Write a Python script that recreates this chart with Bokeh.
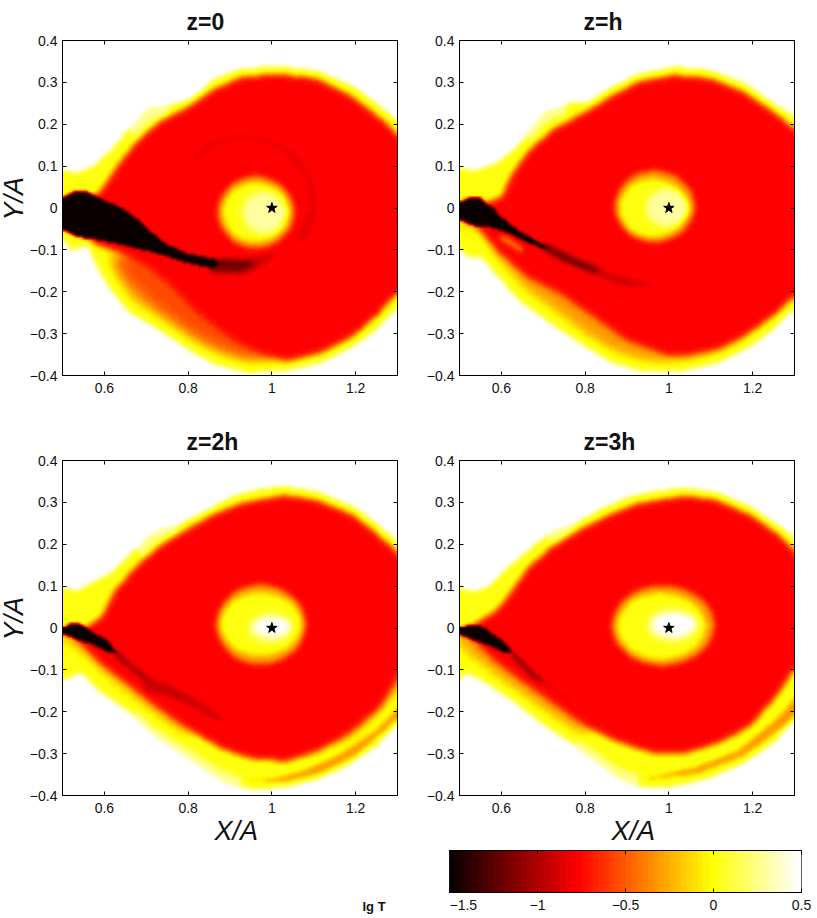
import numpy as np
from bokeh.embed import file_html
from bokeh.resources import INLINE
from bokeh.plotting import figure
from bokeh.layouts import column, row
from bokeh.core.properties import value
from bokeh.models import (FixedTicker, LinearAxis, LinearColorMapper, Range1d, Title)

TITLES = ["z=0", "z=h", "z=2h", "z=3h"]
X_TICKS = [0.6, 0.8, 1.0, 1.2]
X_LABELS = {0.6: "0.6", 0.8: "0.8", 1.0: "1", 1.2: "1.2"}
Y_TICKS = [-0.4, -0.3, -0.2, -0.1, 0, 0.1, 0.2, 0.3, 0.4]
Y_LABELS = {-0.4: "\u22120.4", -0.3: "\u22120.3", -0.2: "\u22120.2", -0.1: "\u22120.1", 0: "0",
            0.1: "0.1", 0.2: "0.2", 0.3: "0.3", 0.4: "0.4"}
CB_TICKS = [-1.5, -1, -0.5, 0, 0.5]
CB_LABELS = {-1.5: "\u22121.5", -1: "\u22121", -0.5: "\u22120.5", 0: "0", 0.5: "0.5"}
STAR_X = [1.0]
STAR_Y = [0.0]

# lg T levels of the regions
PALE, YELLOW, ORANGE, LOWER, RED, RING, DARK, DEEP, BLACK = 0.25, 0.02, -0.33, -0.55, -0.76, -0.84, -0.92, -1.2, -1.5

# ---- z=0 contours (x, y) ----
P1_OUTER = [(.47,.09),(.505,.09),(.537,.085),(.576,.103),(.616,.139),(.656,.187),(.704,.239),(.759,.247),(.807,.262),(.863,.31),(.926,.332),(1.014,.34),(1.109,.328),(1.197,.29),(1.26,.243),(1.3,.21),(1.36,.17),(1.36,-.27),(1.3,-.238),(1.252,-.29),(1.197,-.33),(1.117,-.37),(1.03,-.39),(.942,-.394),(.863,-.374),(.799,-.338),(.727,-.29),(.656,-.247),(.608,-.187),(.576,-.131),(.56,-.09),(.52,-.103),(.505,-.076),(.47,-.076)]
P1_PALE = [(.66,.19),(.704,.24),(.759,.247),(.75,.225),(.7,.2),(.67,.165)]
P1_ORANGE = [(.6,-.105),(.62,-.165),(.66,-.225),(.73,-.27),(.8,-.32),(.865,-.355),(.945,-.378),(1.03,-.378),(1.12,-.355),(1.2,-.31),(1.1,-.2),(.7,-.1)]
P1_LOWER = [(.61,-.105),(.66,-.18),(.73,-.245),(.8,-.3),(.87,-.34),(.94,-.36),(1.0,-.36),(1.0,-.25),(.7,-.1)]
P1_RED = [(.592,.044),(.628,.1),(.672,.155),(.727,.207),(.799,.243),(.863,.286),(.926,.313),(1.014,.32),(1.109,.31),(1.189,.27),(1.252,.223),(1.3,.18),(1.36,.1),(1.36,-.17),(1.3,-.207),(1.252,-.258),(1.197,-.306),(1.117,-.346),(1.038,-.366),(.974,-.35),(.89,-.305),(.82,-.25),(.76,-.19),(.7,-.14),(.64,-.11),(.58,-.09),(.53,-.05),(.53,0),(.56,.02)]
P1_RING = [(.8,.115),(.85,.16),(.915,.178),(.99,.17),(1.055,.138),(1.1,.075),(1.112,0),(1.095,-.06),(1.07,-.1),(1.06,-.06),(1.09,0),(1.078,.075),(1.035,.125),(.985,.155),(.915,.165),(.86,.145),(.82,.108)]
P1_STREAM = [(.47,.03),(.502,.028),(.525,.042),(.56,.042),(.592,.024),(.632,.008),(.672,-.02),(.712,-.056),(.751,-.087),(.799,-.108),(.86,-.12),(.875,-.135),(.86,-.148),(.8,-.135),(.767,-.124),(.712,-.108),(.656,-.095),(.592,-.08),(.535,-.072),(.505,-.056),(.47,-.056)]
P1_TAIL2 = [(.86,-.12),(.94,-.12),(1.0,-.105),(1.02,-.11),(.98,-.14),(.93,-.165),(.85,-.16)]
P1_TAIL = [(.85,-.118),(.92,-.122),(.95,-.122),(.96,-.14),(.92,-.155),(.85,-.152)]
P1_HOT = [(ORANGE,.962,-.01,.096,.09),(YELLOW,.962,-.01,.08,.072),(.3,.982,-.012,.05,.05)]

# ---- z=h contours ----
P2_OUTER = [(.47,.095),(.505,.095),(.537,.091),(.584,.107),(.624,.135),(.664,.179),(.704,.227),(.759,.25),(.807,.254),(.863,.29),(.926,.32),(1.014,.338),(1.101,.33),(1.181,.298),(1.252,.25),(1.3,.219),(1.36,.17),(1.36,-.28),(1.3,-.243),(1.252,-.29),(1.197,-.33),(1.117,-.37),(1.03,-.39),(.942,-.392),(.863,-.37),(.791,-.326),(.719,-.278),(.648,-.227),(.592,-.167),(.552,-.119),(.521,-.119),(.503,-.099),(.47,-.099)]
P2_PALE = [(.66,.18),(.704,.23),(.76,.25),(.75,.225),(.7,.2),(.67,.16)]
P2_ORANGE = [(.47,-.05),(.55,-.06),(.58,-.12),(.65,-.2),(.72,-.25),(.79,-.305),(.865,-.352),(.945,-.375),(1.03,-.378),(1.12,-.355),(1.2,-.315),(1.1,-.2),(.7,-.1),(.6,-.03),(.47,-.03)]
P2_RED = [(.6,.028),(.624,.083),(.664,.139),(.719,.187),(.807,.235),(.863,.27),(.926,.302),(1.014,.318),(1.101,.31),(1.181,.278),(1.252,.231),(1.3,.191),(1.36,.13),(1.36,-.25),(1.3,-.211),(1.252,-.258),(1.197,-.298),(1.117,-.338),(1.038,-.354),(.99,-.35),(.894,-.314),(.815,-.258),(.735,-.203),(.656,-.163),(.592,-.107),(.545,-.052),(.537,.004)]
P2_STREAK = [(.6,-.06),(.655,-.095),(.65,-.112),(.59,-.075)]
P2_FAINT1 = [(.62,-.002),(.68,-.03),(.68,-.036),(.62,-.008)]
P2_FAINT2 = [(.845,-.197),(.9,-.217),(.9,-.226),(.85,-.205)]
P2_TAIL2 = [(.79,-.12),(.863,-.155),(.97,-.183),(.966,-.193),(.894,-.19),(.855,-.176),(.78,-.145)]
P2_TAIL1 = [(.704,-.08),(.767,-.111),(.83,-.145),(.83,-.165),(.751,-.134),(.696,-.105)]
P2_STREAM = [(.47,.02),(.505,.02),(.525,.03),(.549,.028),(.576,.006),(.6,-.02),(.64,-.052),(.688,-.08),(.719,-.095),(.7,-.101),(.656,-.083),(.608,-.06),(.576,-.05),(.529,-.045),(.505,-.032),(.47,-.032)]
P2_HOT = [(ORANGE,.966,.004,.1,.09),(YELLOW,.962,0,.082,.07),(.3,.998,0,.05,.046)]

# ---- z=2h contours ----
P3_OUTER = [(.47,.095),(.505,.095),(.537,.091),(.584,.115),(.624,.139),(.672,.187),(.727,.235),(.783,.25),(.831,.274),(.894,.31),(.958,.33),(1.03,.34),(1.109,.326),(1.197,.29),(1.26,.243),(1.3,.207),(1.36,.16),(1.36,-.28),(1.3,-.227),(1.252,-.282),(1.18,-.33),(1.109,-.362),(1.03,-.382),(.95,-.386),(.879,-.362),(.807,-.314),(.735,-.266),(.672,-.211),(.592,-.155),(.545,-.107),(.509,-.123),(.47,-.12)]
P3_PALE = [(.67,-.215),(.735,-.27),(.807,-.318),(.879,-.366),(.93,-.385),(.93,-.36),(.88,-.34),(.8,-.29),(.72,-.24),(.68,-.2)]
P3_PALE2 = [(.68,.19),(.727,.235),(.783,.25),(.77,.23),(.72,.205),(.69,.17)]
P3_WEDGE = [(.47,-.02),(.54,-.06),(.59,-.11),(.65,-.16),(.72,-.215),(.8,-.27),(.85,-.2),(.7,-.05),(.5,0),(.47,0)]
P3_STREAK = [(.92,-.365),(1.03,-.372),(1.12,-.35),(1.2,-.31),(1.27,-.25),(1.33,-.2),(1.33,-.16),(1.25,-.24),(1.16,-.3),(1.08,-.335),(1.0,-.358),(.93,-.36)]
P3_INNER = [(1.0,-.32),(1.1,-.3),(1.19,-.265),(1.25,-.21),(1.33,-.12),(1.33,0),(1.2,-.1),(1.0,-.2)]
P3_RED = [(.592,.028),(.624,.091),(.672,.147),(.727,.195),(.799,.239),(.863,.274),(.926,.298),(1.03,.318),(1.109,.306),(1.197,.27),(1.252,.227),(1.3,.183),(1.36,.12),(1.36,-.05),(1.3,-.12),(1.26,-.19),(1.19,-.25),(1.11,-.295),(1.038,-.318),(.958,-.314),(.879,-.29),(.799,-.243),(.719,-.187),(.648,-.131),(.584,-.083),(.537,-.036),(.52,-.02)]
P3_TAIL2 = [(.688,-.107),(.767,-.139),(.831,-.175),(.894,-.223),(.863,-.223),(.807,-.191),(.735,-.163),(.696,-.155),(.685,-.127)]
P3_TAIL1 = [(.624,-.048),(.672,-.091),(.704,-.115),(.688,-.123),(.648,-.091),(.62,-.068)]
P3_STREAM = [(.47,.004),(.503,.004),(.521,.016),(.545,.012),(.576,-.012),(.608,-.028),(.632,-.06),(.616,-.064),(.576,-.044),(.537,-.032),(.505,-.02),(.47,-.02)]
P3_HOT = [(ORANGE,.974,.008,.111,.1),(YELLOW,.974,.009,.098,.076),(.3,.998,0,.05,.034),(.5,1.004,.004,.042,.022)]

# ---- z=3h contours ----
P4_OUTER = [(.47,.095),(.505,.095),(.537,.087),(.572,.103),(.616,.147),(.664,.187),(.719,.231),(.783,.254),(.831,.282),(.894,.31),(.958,.326),(1.038,.336),(1.117,.324),(1.197,.29),(1.26,.247),(1.3,.219),(1.36,.16),(1.36,-.3),(1.3,-.219),(1.252,-.274),(1.181,-.322),(1.101,-.358),(1.022,-.378),(.942,-.382),(.879,-.358),(.831,-.322),(.775,-.282),(.704,-.235),(.632,-.179),(.56,-.131),(.517,-.107),(.505,-.123),(.47,-.12)]
P4_PALE = [(.775,-.285),(.831,-.325),(.879,-.36),(.93,-.38),(.93,-.352),(.88,-.335),(.83,-.3),(.78,-.265)]
P4_PALE2 = [(.7,.215),(.72,.232),(.783,.255),(.77,.235),(.73,.21)]
P4_WEDGE = [(.47,-.02),(.52,-.07),(.58,-.12),(.65,-.17),(.73,-.225),(.8,-.27),(.85,-.2),(.7,-.05),(.5,0),(.47,0)]
P4_STREAK = [(.94,-.358),(1.06,-.33),(1.165,-.29),(1.26,-.21),(1.33,-.13),(1.33,-.19),(1.27,-.245),(1.18,-.31),(1.07,-.352),(.95,-.366)]
P4_RED = [(.588,.044),(.624,.091),(.664,.147),(.719,.195),(.791,.239),(.863,.274),(.926,.298),(1.038,.316),(1.117,.306),(1.197,.27),(1.26,.227),(1.3,.187),(1.36,.1),(1.36,-.1),(1.3,-.1),(1.26,-.163),(1.197,-.235),(1.125,-.274),(1.046,-.298),(.958,-.298),(.879,-.274),(.799,-.235),(.719,-.179),(.64,-.123),(.568,-.068),(.529,-.028),(.51,-.004)]
P4_TAIL2 = [(.692,-.115),(.743,-.155),(.799,-.191),(.751,-.171),(.704,-.143)]
P4_TAIL1 = [(.624,-.052),(.664,-.091),(.704,-.127),(.688,-.135),(.648,-.099),(.62,-.072)]
P4_STREAM = [(.47,.004),(.505,.004),(.525,.01),(.552,.008),(.584,-.016),(.608,-.032),(.632,-.064),(.608,-.064),(.568,-.044),(.521,-.028),(.503,-.02),(.47,-.02)]
P4_HOT = [(ORANGE,.986,.006,.127,.1),(YELLOW,.982,.004,.107,.08),(.3,1.01,.006,.06,.038),(.5,1.012,.008,.05,.028)]

PANELS = [
    dict(rim=[(YELLOW,P1_OUTER),(PALE,P1_PALE)], wedge=[(ORANGE,P1_ORANGE),(LOWER,P1_LOWER)], red=P1_RED,
         marks=[(RING,P1_RING)], hot=P1_HOT, tails=[(DARK,P1_TAIL2),(DEEP,P1_TAIL)], core=P1_STREAM),
    dict(rim=[(YELLOW,P2_OUTER),(PALE,P2_PALE)], wedge=[(ORANGE,P2_ORANGE)], red=P2_RED,
         marks=[(ORANGE,P2_STREAK),(DARK,P2_FAINT1),(DARK,P2_FAINT2)], hot=P2_HOT,
         tails=[(DARK,P2_TAIL2),(DEEP,P2_TAIL1)], core=P2_STREAM),
    dict(rim=[(YELLOW,P3_OUTER),(PALE,P3_PALE),(PALE,P3_PALE2)], wedge=[(ORANGE,P3_WEDGE),(LOWER,P3_INNER)], red=P3_RED,
         marks=[(ORANGE,P3_STREAK)], hot=P3_HOT, tails=[(DARK,P3_TAIL2),(DEEP,P3_TAIL1)], core=P3_STREAM),
    dict(rim=[(YELLOW,P4_OUTER),(PALE,P4_PALE),(PALE,P4_PALE2)], wedge=[(ORANGE,P4_WEDGE)], red=P4_RED,
         marks=[(ORANGE,P4_STREAK)], hot=P4_HOT, tails=[(DARK,P4_TAIL2),(DEEP,P4_TAIL1)], core=P4_STREAM),
]

# MATLAB-style "hot" colormap with 64 levels
def hot_palette(n=64):
    k = int(3 * n / 8)
    out = []
    for i in range(n):
        r = min((i + 1) / k, 1)
        g = min(max((i + 1 - k) / k, 0), 1)
        b = max((i + 1 - 2 * k) / (n - 2 * k), 0)
        out.append("#%02x%02x%02x" % (round(r * 255), round(g * 255), round(b * 255)))
    return out

HOT = hot_palette()
MAPPER = LinearColorMapper(palette=HOT, low=-1.5, high=0.5)

PAD, NPIX = 14, 168
STEP = 0.8 / NPIX
GX, GY = np.meshgrid(0.5 + (np.arange(-PAD, NPIX + PAD) + 0.5) * STEP,
                     -0.4 + (np.arange(-PAD, NPIX + PAD) + 0.5) * STEP)

def inside(poly):
    pts = np.array(poly)
    xa, ya = pts[:, 0], pts[:, 1]
    xb, yb = np.roll(xa, -1), np.roll(ya, -1)
    m = np.zeros(GX.shape, bool)
    for x1, y1, x2, y2 in zip(xa, ya, xb, yb):
        if y1 == y2:
            continue
        c = (y1 > GY) != (y2 > GY)
        m ^= c & (GX < (x2 - x1) * (GY - y1) / (y2 - y1) + x1)
    return m

def oval(cx, cy, rx, ry):
    return ((GX - cx) / rx) ** 2 + ((GY - cy) / ry) ** 2 < 1

def grow(m):
    return m | np.roll(m, 1, 0) | np.roll(m, -1, 0) | np.roll(m, 1, 1) | np.roll(m, -1, 1)

def soften(f, sigma):
    r = int(3 * sigma) + 1
    k = np.exp(-0.5 * (np.arange(-r, r + 1) / sigma) ** 2)
    k /= k.sum()
    pad = np.pad(f, r, mode="edge")
    pad = np.apply_along_axis(lambda v: np.convolve(v, k, mode="same"), 0, pad)
    pad = np.apply_along_axis(lambda v: np.convolve(v, k, mode="same"), 1, pad)
    return pad[r:-r, r:-r]

def blend(f, items, sigma):
    g = f.copy()
    union = np.zeros(f.shape)
    for level, mask in items:
        g[mask] = level
        union[mask] = 1.0
    g = soften(g, sigma)
    a = soften(union, sigma)
    return f * (1 - a) + g * a

def field(panel):
    f = np.full(GX.shape, 0.5)
    for level, poly in panel["rim"]:
        f[inside(poly)] = level
    f = soften(f, 1.1)
    f = blend(f, [(l, inside(q)) for l, q in panel["wedge"]], 3.5)
    f = blend(f, [(RED, grow(inside(panel["red"])))], 1.8)
    f = blend(f, [(l, inside(q)) for l, q in panel["marks"]], 1.5)
    f = blend(f, [(h[0], oval(*h[1:])) for h in panel["hot"]], 1.6)
    f = blend(f, [(l, inside(q)) for l, q in panel["tails"]], 1.5)
    f = blend(f, [(BLACK, inside(panel["core"]))], 0.8)
    return f[PAD:-PAD, PAD:-PAD]

def style_axis(ax, size="14px"):
    ax.axis_line_color = "black"
    ax.major_tick_line_color = "black"
    ax.major_tick_in = 4
    ax.major_tick_out = 0
    ax.minor_tick_line_color = None
    ax.major_label_text_font = "Liberation Sans"
    ax.major_label_text_font_size = size
    ax.major_label_text_color = "#111111"

def blank_axis(ticker):
    ax = LinearAxis(ticker=ticker)
    style_axis(ax, "0px")
    ax.major_label_standoff = 0
    ax.major_label_text_color = None
    return ax

AXIS_TITLE = dict(text_font="Liberation Sans", text_font_style="italic", text_font_size="27px",
                  text_color="#111111", align="left")

def panel(i):
    left = 63 if i % 2 == 0 else 53
    right = 9 if i % 2 == 0 else 16
    top = 40 if i < 2 else 50
    bottom = 35 if i < 2 else 55
    p = figure(width=left + 335 + right, height=top + 335 + bottom, frame_width=335, frame_height=335,
               x_range=Range1d(0.5, 1.3), y_range=Range1d(-0.4, 0.4), output_backend="svg",
               toolbar_location=None, min_border_left=left, min_border_right=right,
               min_border_top=top, min_border_bottom=bottom, x_axis_type=None, y_axis_type=None,
               background_fill_color="white", border_fill_color=None,
               margin=(0, 0, 0, -2 if i % 2 == 0 else 0))
    p.grid.visible = False
    p.outline_line_color = "#222222"
    p.title = Title(text=TITLES[i], align="left", offset=124, standoff=12, text_font="Liberation Sans",
                    text_font_style="bold", text_font_size="23px", text_color="#111111")
    xb = LinearAxis(ticker=FixedTicker(ticks=X_TICKS), major_label_overrides=X_LABELS)
    yl = LinearAxis(ticker=FixedTicker(ticks=Y_TICKS), major_label_overrides=Y_LABELS)
    style_axis(xb)
    style_axis(yl)
    xb.major_label_standoff = 7
    yl.major_label_standoff = 5
    p.add_layout(xb, "below")
    p.add_layout(yl, "left")
    p.add_layout(blank_axis(FixedTicker(ticks=X_TICKS)), "above")
    p.add_layout(blank_axis(FixedTicker(ticks=Y_TICKS)), "right")
    p.image(image=[field(PANELS[i])], x=0.5, y=-0.4, dw=0.8, dh=0.8, color_mapper=MAPPER)
    p.scatter(STAR_X, STAR_Y, marker="star", size=11, fill_color="black", line_color="black")
    if i % 2 == 0:
        p.add_layout(Title(text="Y/A", offset=155, standoff=-4, **AXIS_TITLE), "left")
    if i >= 2:
        p.add_layout(Title(text="X/A", offset=152, standoff=-3, **AXIS_TITLE), "below")
    return p

def colorbar():
    p = figure(width=352 + 16, height=42 + 24, frame_width=352, frame_height=42,
               x_range=Range1d(-1.5, 0.5), y_range=Range1d(0, 1), output_backend="svg",
               toolbar_location=None, min_border_left=0, min_border_right=16,
               min_border_top=0, min_border_bottom=24, x_axis_type=None, y_axis_type=None,
               border_fill_color=None)
    p.grid.visible = False
    p.outline_line_color = "#222222"
    values = np.linspace(-1.5, 0.5, 64, endpoint=False) + 1 / 64
    p.image(image=[values[None, :]], x=-1.5, y=0, dw=2, dh=1, color_mapper=MAPPER)
    xb = LinearAxis(ticker=FixedTicker(ticks=CB_TICKS), major_label_overrides=CB_LABELS)
    style_axis(xb)
    xb.major_label_standoff = 7
    p.add_layout(xb, "below")
    p.add_layout(blank_axis(FixedTicker(ticks=CB_TICKS)), "above")
    return p

def caption():
    p = figure(width=449, height=66, frame_width=449, frame_height=66, x_range=Range1d(0, 449), y_range=Range1d(0, 66),
               output_backend="svg", toolbar_location=None, min_border=0, x_axis_type=None, y_axis_type=None,
               border_fill_color=None, outline_line_color=None)
    p.grid.visible = False
    p.text([362], [10], text=["lg T"], text_font=value("Liberation Sans"), text_font_style="bold",
           text_font_size="13px", text_color="#111111", text_baseline="middle")
    return p

page = column(row(panel(0), panel(1), spacing=0), row(panel(2), panel(3), spacing=0),
              row(caption(), colorbar(), spacing=0), spacing=0)
open("out.html", "w").write(file_html(page, INLINE))
